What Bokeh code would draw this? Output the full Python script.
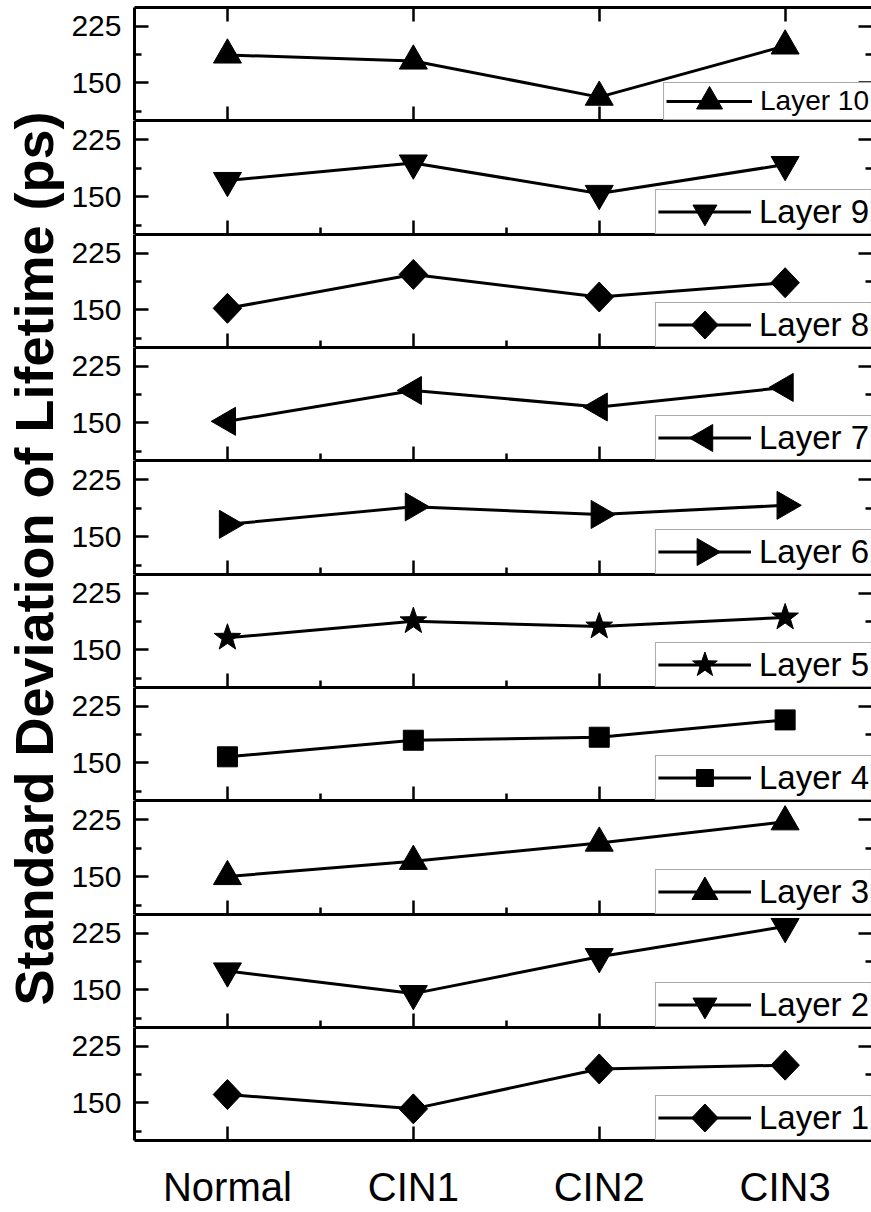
import math
from bokeh.plotting import figure
from bokeh.models import (Range1d, LinearAxis, FixedTicker, Legend, LegendItem,
                          Label, ColumnDataSource, CustomJS)
from bokeh.layouts import column, row
from bokeh.embed import file_html
from bokeh.resources import INLINE

# ---------------- data ----------------
categories = ["Normal", "CIN1", "CIN2", "CIN3"]
x_pos = [1, 2, 3, 4]
layer_10 = [187, 179, 131, 199]
layer_9 = [171, 194, 154, 192]
layer_8 = [152, 197, 167, 186]
layer_7 = [152, 193, 171, 197]
layer_6 = [166, 189, 179, 191]
layer_5 = [166, 188, 181, 193]
layer_4 = [158, 180, 184, 207]
layer_3 = [150, 170, 194, 222]
layer_2 = [175, 145, 194, 234]
layer_1 = [161, 142, 195, 200]
layer_names = ["Layer 10", "Layer 9", "Layer 8", "Layer 7", "Layer 6",
               "Layer 5", "Layer 4", "Layer 3", "Layer 2", "Layer 1"]
y_ticks = [150, 225]
y_minor_ticks = [112.5, 187.5]
x_minor_ticks = [1.5, 2.5, 3.5]
y_title = "Standard Deviation of Lifetime (ps)"

FONT = "Arial"

series = [layer_10, layer_9, layer_8, layer_7, layer_6,
          layer_5, layer_4, layer_3, layer_2, layer_1]
# marker kind, plot size, legend radius
markers = [("up", 28, 13), ("down", 28, 12), ("diamond", 30, 14),
           ("left", 28, 13.5), ("right", 28, 13.5), ("star", 28, 13),
           ("square", 20, 8.5), ("up", 28, 13), ("down", 28, 12), ("diamond", 30, 14)]
frame_heights = [113, 114, 113, 113, 114, 113, 113, 114, 113, 113]

MARKER_JS = """
export default (args, obj, {ctx, i, r, visuals}) => {
  const R = (r < 9.5) ? args.lr : r
  const kind = args.kind
  let pts = []
  if (kind == "up" || kind == "down" || kind == "left" || kind == "right") {
    const h = R * Math.sqrt(3)
    const a = h / 3
    if (kind == "up") pts = [[-R, a], [R, a], [0, a - h]]
    else if (kind == "down") pts = [[-R, -a], [R, -a], [0, h - a]]
    else if (kind == "left") pts = [[a - h, 0], [a, -R], [a, R]]
    else pts = [[h - a, 0], [-a, -R], [-a, R]]
  } else if (kind == "diamond") {
    pts = [[0, -R], [0.95 * R, 0], [0, R], [-0.95 * R, 0]]
  } else if (kind == "square") {
    pts = [[-R, -R], [R, -R], [R, R], [-R, R]]
  } else {
    for (let j = 0; j < 10; j++) {
      const ang = -Math.PI / 2 + j * Math.PI / 5
      const rad = (j % 2 == 0) ? R : R * 0.40
      pts.push([rad * Math.cos(ang), rad * Math.sin(ang)])
    }
  }
  ctx.beginPath()
  ctx.moveTo(pts[0][0], pts[0][1])
  for (let j = 1; j < pts.length; j++) ctx.lineTo(pts[j][0], pts[j][1])
  ctx.closePath()
  visuals.fill.apply(ctx, i)
  visuals.line.apply(ctx, i)
}
"""

TITLE_W = 68


def hidden_labels(ax):
    ax.major_label_text_font_size = "0px"
    ax.major_label_standoff = 0
    ax.major_label_text_color = None


def style_ticks(ax, major_len=14, minor_len=7):
    ax.major_tick_in = major_len
    ax.major_tick_out = 0
    ax.minor_tick_in = minor_len
    ax.minor_tick_out = 0
    ax.major_tick_line_width = 2.5
    ax.minor_tick_line_width = 2.5
    ax.major_tick_line_color = "black"
    ax.minor_tick_line_color = "black"
    ax.axis_line_width = 3
    ax.axis_line_color = "black"


panels = []
n = len(series)
for i in range(n):
    first = i == 0
    last = i == n - 1
    p = figure(frame_width=738, frame_height=frame_heights[i],
               x_range=Range1d(0.5, 4.47), y_range=Range1d(100, 250),
               output_backend="svg", toolbar_location=None,
               x_axis_location=None, y_axis_location=None,
               min_border_left=133 - TITLE_W, min_border_right=0,
               min_border_top=7 if first else 0,
               min_border_bottom=72 if last else 0)
    p.grid.visible = False
    p.outline_line_color = None
    p.background_fill_color = "white"
    p.border_fill_color = "white"

    # left axis
    ya = LinearAxis(ticker=FixedTicker(ticks=y_ticks, minor_ticks=y_minor_ticks))
    style_ticks(ya)
    ya.major_label_text_font = FONT
    ya.major_label_text_font_size = "30px"
    ya.major_label_text_color = "black"
    ya.major_label_standoff = 13
    p.add_layout(ya, "left")

    # right axis (ticks only, spine off the page)
    yr = LinearAxis(ticker=FixedTicker(ticks=y_ticks, minor_ticks=y_minor_ticks))
    style_ticks(yr)
    yr.axis_line_color = None
    hidden_labels(yr)
    p.add_layout(yr, "right")

    # top axis (ticks only on the top panel)
    xt = LinearAxis(ticker=FixedTicker(ticks=x_pos, minor_ticks=[]))
    style_ticks(xt)
    if not first:
        xt.major_tick_in = 0
        xt.minor_tick_in = 0
        xt.major_tick_line_color = None
        xt.minor_tick_line_color = None
    hidden_labels(xt)
    p.add_layout(xt, "above")

    # bottom axis
    xb = LinearAxis(ticker=FixedTicker(ticks=x_pos,
                                       minor_ticks=[] if (first or last) else x_minor_ticks))
    style_ticks(xb)
    if last:
        xb.major_label_overrides = {x: c for x, c in zip(x_pos, categories)}
        xb.major_label_text_font = FONT
        xb.major_label_text_font_size = "40px"
        xb.major_label_standoff = 24
        xb.major_label_text_color = "black"
    else:
        hidden_labels(xb)
    p.add_layout(xb, "below")

    src = ColumnDataSource(dict(x=x_pos, y=series[i]))
    kind, sz, lr = markers[i]
    ln = p.line("x", "y", source=src, line_width=3, line_color="black")
    mname = "@" + kind
    sc = p.scatter("x", "y", source=src, marker=mname, size=sz,
                   fill_color="black", line_color="black", line_width=1,
                   defs={mname: CustomJS(args=dict(kind=kind, lr=lr), code=MARKER_JS)})

    leg = Legend(items=[LegendItem(label=layer_names[i], renderers=[ln, sc])],
                 location="bottom_right")
    leg.margin = 0
    leg.padding = 2
    leg.spacing = 0
    leg.glyph_width = 86 if first else 93
    leg.glyph_height = 32 if first else 39
    leg.label_standoff = 8
    leg.label_text_font = FONT
    leg.label_text_font_size = "28px" if first else "33px"
    leg.label_text_color = "black"
    leg.label_text_baseline = "middle"
    leg.border_line_color = "#555555"
    leg.border_line_width = 1
    leg.background_fill_alpha = 1
    p.add_layout(leg)
    panels.append(p)

# y-axis title in a narrow figure at the left
tf = figure(width=TITLE_W, height=1212, x_range=Range1d(0, TITLE_W), y_range=Range1d(0, 1212),
            output_backend="svg", toolbar_location=None,
            x_axis_location=None, y_axis_location=None,
            min_border=0)
tf.grid.visible = False
tf.outline_line_color = None
tf.add_layout(Label(x=33, y=1212 - 558, text=y_title, angle=math.pi / 2,
                    text_align="center", text_baseline="middle",
                    text_font=FONT, text_font_style="bold", text_font_size="54px",
                    text_color="black"))

layout = row(tf, column(*panels, spacing=0), spacing=0)

open("out.html", "w").write(file_html(layout, INLINE))
